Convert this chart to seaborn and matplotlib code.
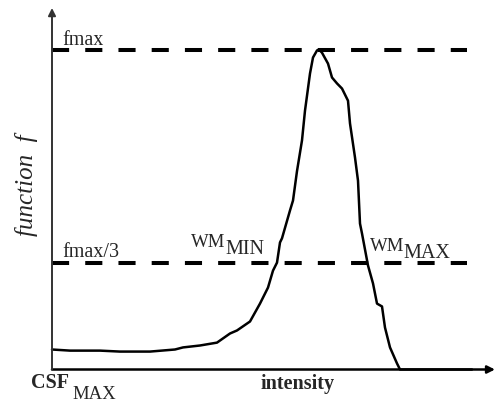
import matplotlib
matplotlib.use("Agg")
import matplotlib.pyplot as plt
import seaborn as sns
import pandas as pd

# Data (arbitrary intensity units; f normalised so fmax = 1)
intensity = [0, 18, 48, 68, 98, 123, 131, 148, 165, 178, 185, 198, 208, 216, 221,
             225, 228, 230, 238, 241, 245, 250, 253, 258, 261, 265, 267, 270, 276,
             280, 285, 290, 296, 298, 303, 306, 308, 310, 316, 321, 325, 330, 333,
             338, 345, 348, 420]
f_values = [0.0625, 0.059, 0.059, 0.056, 0.056, 0.0625, 0.069, 0.075, 0.084, 0.1125,
            0.122, 0.15, 0.206, 0.256, 0.309, 0.334, 0.397, 0.41, 0.497, 0.528,
            0.62, 0.716, 0.809, 0.925, 0.975, 0.997, 1.0, 0.99, 0.956, 0.9125,
            0.894, 0.878, 0.84, 0.769, 0.6625, 0.59, 0.456, 0.425, 0.325, 0.269,
            0.206, 0.197, 0.131, 0.069, 0.019, 0.0, 0.0]
fmax = 1.0
levels = [fmax, fmax / 3]
level_labels = ["fmax", "fmax/3"]

df = pd.DataFrame({"intensity": intensity, "f": f_values})

sns.set_style("white")
plt.rcParams["font.family"] = ["Liberation Serif", "DejaVu Serif"]

W, H = 496, 403
fig = plt.figure(figsize=(W / 100, H / 100), dpi=100)
x0, x1 = 52, 495
ybase, ytop = 369.5, 8
ax = fig.add_axes([x0 / W, (H - ybase) / H, (x1 - x0) / W, (ybase - ytop) / H])
xmax_data = x1 - x0
ymax_data = (ybase - ytop) / 320.0
ax.set_xlim(0, xmax_data)
ax.set_ylim(0, ymax_data)
for s in ax.spines.values():
    s.set_visible(False)
ax.set_xticks([])
ax.set_yticks([])
ax.patch.set_alpha(0)

# dashed reference lines
ax.hlines(levels, xmin=0, xmax=415, colors="black", linewidth=2.9,
          linestyles=[(0, (4.25, 4.0))], zorder=2)

# curve
sns.lineplot(data=df, x="intensity", y="f", ax=ax, color="black", linewidth=1.8,
             zorder=3, clip_on=False)
ax.set_xlabel("")
ax.set_ylabel("")

# axes with arrows
ax.annotate("", xy=(xmax_data, 0), xytext=(0, 0), xycoords="data",
            arrowprops=dict(arrowstyle="-|>", lw=1.8, color="black",
                            mutation_scale=11, shrinkA=0, shrinkB=0),
            annotation_clip=False, zorder=4)
ax.annotate("", xy=(0, ymax_data), xytext=(0, 0), xycoords="data",
            arrowprops=dict(arrowstyle="-|>", lw=1.4, color="#333333",
                            mutation_scale=11, shrinkA=0, shrinkB=0),
            annotation_clip=False, zorder=4)

def px(xp, yp):
    return (xp - x0, (ybase - yp) / 320.0)

# labels
ax.text(*px(62, 45), level_labels[0], fontsize=14.5, ha="left", va="baseline")
ax.text(*px(62, 257), level_labels[1], fontsize=14.5, ha="left", va="baseline")

ax.text(*px(191, 247), "WM", fontsize=13.5, ha="left", va="baseline")
ax.text(*px(225, 254), "MIN", fontsize=14.5, ha="left", va="baseline")
ax.text(*px(370, 251), "WM", fontsize=13.5, ha="left", va="baseline")
ax.text(*px(403, 258), "MAX", fontsize=14.5, ha="left", va="baseline")

ax.text(*px(31, 388), "CSF", fontsize=14.5, fontweight="bold", ha="left",
        va="baseline", clip_on=False)
ax.text(*px(72, 399), "MAX", fontsize=13.5, ha="left", va="baseline", clip_on=False)
ax.text(*px(298, 389), "intensity", fontsize=14.5, fontweight="bold",
        ha="center", va="baseline", clip_on=False)

fig.text(27 / W, (H - 185) / H, "function  f", fontsize=18, fontstyle="italic",
         rotation=90, ha="center", va="center")

fig.savefig("out.png", dpi=100, facecolor="white")
